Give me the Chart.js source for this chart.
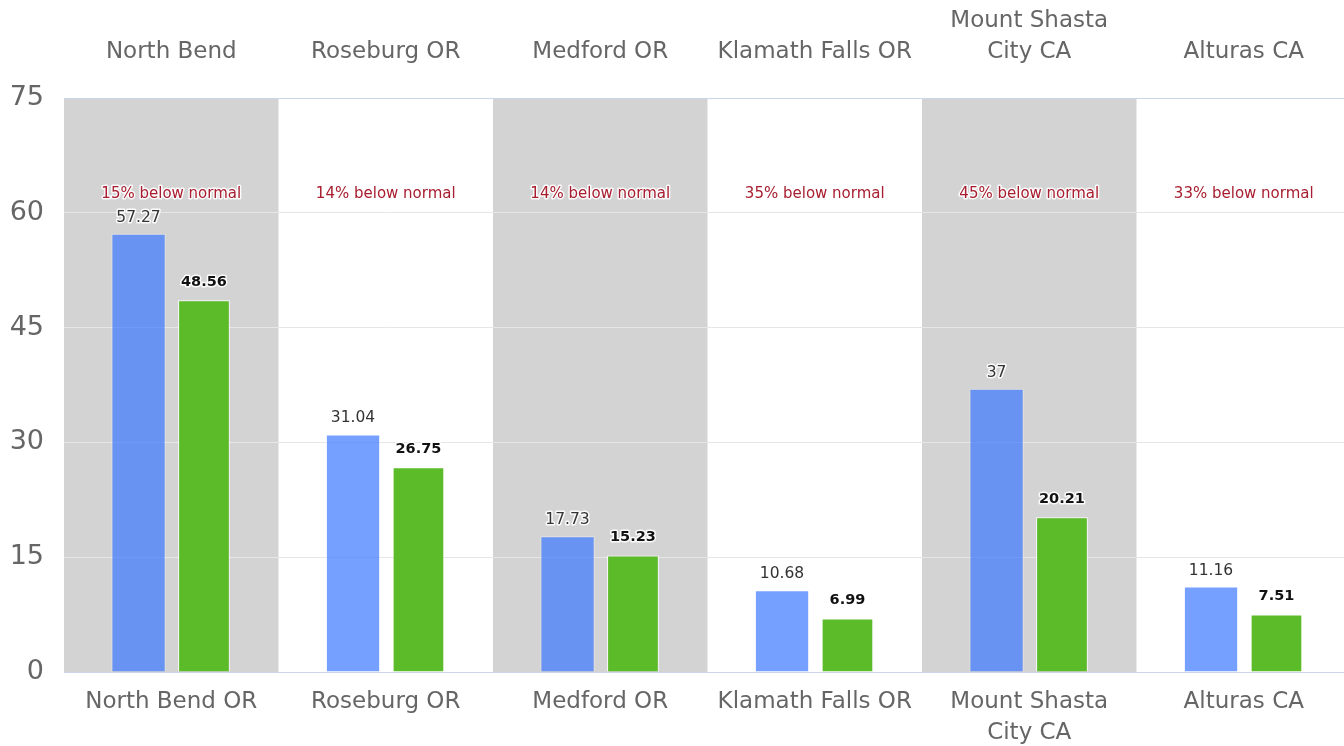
<!DOCTYPE html>
<html>
<head>
<meta charset="utf-8">
<script src="https://cdn.jsdelivr.net/npm/chart.js@4/dist/chart.umd.min.js"></script>
<style>
html,body{margin:0;padding:0;background:#fff;overflow:hidden;width:1344px;height:746px;}
#wrap{width:1351px;height:746px;position:relative;}
</style>
</head>
<body>
<div id="wrap"><canvas id="c"></canvas></div>
<script>
// ---- data ----
const categories = ["North Bend OR", "Roseburg OR", "Medford OR", "Klamath Falls OR", ["Mount Shasta", "City CA"], "Alturas CA"];
const topLabels = ["North Bend", "Roseburg OR", "Medford OR", "Klamath Falls OR", ["Mount Shasta", "City CA"], "Alturas CA"];
const normalValues = [57.27, 31.04, 17.73, 10.68, 37, 11.16];
const actualValues = [48.56, 26.75, 15.23, 6.99, 20.21, 7.51];
const notes = ["15% below normal", "14% below normal", "14% below normal", "35% below normal", "45% below normal", "33% below normal"];
const noteLevel = 62.4;
const bandIndices = [0, 2, 4];
const yMin = 0, yMax = 75, yStep = 15;

const FONT = "'DejaVu Sans', sans-serif";

const bandPlugin = {
  id: 'bands',
  beforeDraw(chart) {
    const {ctx, chartArea, scales} = chart;
    const x = scales.x;
    const half = (x.getPixelForValue(1) - x.getPixelForValue(0)) / 2;
    ctx.save();
    ctx.fillStyle = '#d3d3d3';
    bandIndices.forEach(i => {
      const c = x.getPixelForValue(i);
      const l = Math.max(chartArea.left, c - half);
      const r = Math.min(chartArea.right, c + half);
      ctx.fillRect(l, chartArea.top, r - l, chartArea.bottom - chartArea.top);
    });
    ctx.restore();
  }
};

const labelPlugin = {
  id: 'labels',
  afterDatasetsDraw(chart) {
    const {ctx, scales} = chart;
    ctx.save();
    ctx.textAlign = 'center';
    ctx.textBaseline = 'middle';
    ctx.lineJoin = 'round';
    chart.data.datasets.forEach((ds, di) => {
      const meta = chart.getDatasetMeta(di);
      ctx.font = ds._lblFont;
      meta.data.forEach((el, i) => {
        const txt = String(ds.data[i]);
        const y = el.y - ds._lblOff;
        ctx.strokeStyle = 'rgba(255,255,255,0.9)';
        ctx.lineWidth = 3;
        ctx.strokeText(txt, el.x, y);
        ctx.fillStyle = ds._lblColor;
        ctx.fillText(txt, el.x, y);
      });
    });
    // notes
    ctx.font = "15px " + FONT;
    const ny = scales.y.getPixelForValue(noteLevel);
    notes.forEach((t, i) => {
      const x = scales.x.getPixelForValue(i);
      ctx.strokeStyle = 'rgba(255,255,255,0.9)';
      ctx.lineWidth = 3;
      ctx.strokeText(t, x, ny);
      ctx.fillStyle = '#a81d2f';
      ctx.fillText(t, x, ny);
    });
    ctx.restore();
  }
};

new Chart(document.getElementById('c'), {
  type: 'bar',
  data: {
    labels: categories,
    datasets: [
      {
        label: 'Normal',
        data: normalValues,
        backgroundColor: 'rgba(60,120,255,0.7)',
        borderColor: 'rgba(255,255,255,0.4)',
        borderWidth: 1,
        barPercentage: 0.83,
        categoryPercentage: 0.61,
        _lblFont: "15.5px " + FONT,
        _lblColor: '#333',
        _lblOff: 16
      },
      {
        label: 'Actual',
        data: actualValues,
        backgroundColor: '#5bbb29',
        borderColor: '#ffffff',
        borderWidth: 1,
        barPercentage: 0.79,
        categoryPercentage: 0.61,
        _lblFont: "bold 14.5px " + FONT,
        _lblColor: '#111',
        _lblOff: 18
      }
    ]
  },
  options: {
    responsive: true,
    maintainAspectRatio: false,
    animation: false,
    layout: {padding: 0},
    plugins: {legend: {display: false}, tooltip: {enabled: false}},
    scales: {
      x: {
        position: 'bottom',
        offset: true,
        grid: {display: false, drawTicks: false},
        border: {display: true, color: '#ccd6eb', width: 1},
        ticks: {color: '#666', font: {family: FONT, size: 23, lineHeight: 1.35}, padding: 14.5, maxRotation: 0, autoSkip: false},
        afterFit(s) { s.height = 74; }
      },
      x2: {
        type: 'category',
        position: 'top',
        labels: topLabels,
        offset: true,
        grid: {display: false, drawTicks: false},
        border: {display: true, color: '#ccd6eb', width: 1},
        ticks: {color: '#666', font: {family: FONT, size: 23, lineHeight: 1.35}, padding: 30.5, maxRotation: 0, autoSkip: false},
        afterFit(s) { s.height = 98; }
      },
      y: {
        min: yMin,
        max: yMax,
        ticks: {stepSize: yStep, color: '#666', font: {family: FONT, size: 27}, padding: 20},
        grid: {
          drawTicks: false,
          color: (c) => (c.tick && (c.tick.value === yMin || c.tick.value === yMax)) ? 'rgba(0,0,0,0)' : '#e6e6e6',
          lineWidth: 1
        },
        border: {display: false},
        afterFit(s) { s.width = 64; }
      }
    }
  },
  plugins: [bandPlugin, labelPlugin]
});
</script>
</body>
</html>
